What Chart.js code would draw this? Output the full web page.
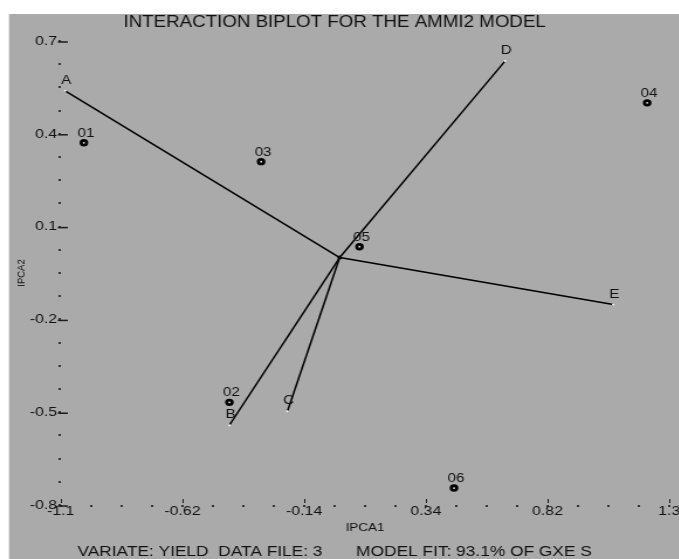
<!DOCTYPE html>
<html>
<head>
<meta charset="utf-8">
<script src="https://cdn.jsdelivr.net/npm/chart.js@4.4.1/dist/chart.umd.min.js"></script>
<style>
html, body { margin:0; padding:0; background:#fff; overflow:hidden; }
#wrap { width:600px; height:559px; transform:scaleX(1.17); transform-origin:0 0; }
</style>
</head>
<body>
<div id="wrap"><canvas id="myChart" width="600" height="559"></canvas></div>
<script>
// environments (points)
var envNames = ['01','02','03','04','05','06'];
var envX = [-1.009, -0.435, -0.310, 1.213, 0.078, 0.451];
var envY = [0.371, -0.468, 0.310, 0.500, 0.035, -0.745];

// genotypes (vectors from origin)
var genoNames = ['A','B','C','D','E'];
var genoX = [-1.083, -0.435, -0.206, 0.652, 1.079];
var genoY = [0.539, -0.542, -0.497, 0.635, -0.152];

// axis ticks
var xTicks = [-1.1, -0.62, -0.14, 0.34, 0.82, 1.3];
var xTickLabels = ['-1.1', '-0.62', '-0.14', '0.34', '0.82', '1.3'];
var yTicks = [0.7, 0.4, 0.1, -0.2, -0.5, -0.8];
var yTickLabels = ['0.7', '0.4', '0.1', '-0.2', '-0.5', '-0.8'];

var FONT = "'Liberation Sans', Arial, sans-serif";

// majors plus 3 minor dots between each
function withMinors(majors){
	var out = [];
	for (var i = 0; i < majors.length; i++) {
		out.push(majors[i]);
		if (i < majors.length - 1) {
			var step = (majors[i+1] - majors[i]) / 4;
			for (var k = 1; k < 4; k++) out.push(majors[i] + step * k);
		}
	}
	return out;
}

function findLabel(v, ticks, labels){
	for (var i = 0; i < ticks.length; i++) {
		if (Math.abs(ticks[i] - v) < 1e-6) return labels[i];
	}
	return '';
}

var datasets = [];
for (var g = 0; g < genoNames.length; g++) {
	datasets.push({
		label: genoNames[g],
		data: [{x: 0, y: 0}, {x: genoX[g], y: genoY[g]}],
		showLine: true,
		borderColor: '#000',
		borderWidth: 1.5,
		pointRadius: [0, 1],
		pointBackgroundColor: '#fff',
		pointBorderWidth: 0,
		isGeno: true
	});
}
datasets.push({
	label: 'origin',
	data: [{x: 0, y: 0}],
	pointRadius: 2,
	pointBackgroundColor: '#000',
	pointBorderWidth: 0
});
datasets.push({
	label: 'env',
	data: envX.map(function(x, i){ return {x: x, y: envY[i]}; }),
	pointRadius: 2.3,
	pointBackgroundColor: '#eee',
	pointBorderColor: '#000',
	pointBorderWidth: 2.8,
	isEnv: true
});

var bgPlugin = {
	id: 'bg',
	beforeDraw: function(chart){
		var c = chart.ctx;
		c.save();
		c.fillStyle = '#fff';
		c.fillRect(0, 0, chart.width, chart.height);
		c.fillStyle = '#aaaaaa';
		c.fillRect(7.7, 14, chart.width, chart.height);
		c.restore();
	}
};

var labelPlugin = {
	id: 'pointLabels',
	afterDatasetsDraw: function(chart){
		var c = chart.ctx;
		c.save();
		c.fillStyle = '#111';
		c.textAlign = 'center';
		c.textBaseline = 'middle';
		chart.data.datasets.forEach(function(ds, i){
			var meta = chart.getDatasetMeta(i);
			if (ds.isGeno) {
				var p = meta.data[1];
				c.font = '13px ' + FONT;
				c.fillText(ds.label, p.x + 1, p.y - 10.5);
			}
			if (ds.isEnv) {
				c.font = '13px ' + FONT;
				meta.data.forEach(function(p, j){
					c.fillText(envNames[j], p.x + 1.7, p.y - 9.5);
				});
			}
		});
		// major tick marks: short verticals on x, dashes on y
		var xs = chart.scales.x, ys = chart.scales.y;
		c.strokeStyle = '#1a1a1a';
		c.lineWidth = 1;
		xTicks.forEach(function(v){
			var px = Math.round(xs.getPixelForValue(v)) + 0.5;
			c.beginPath();
			c.moveTo(px, xs.top - 6);
			c.lineTo(px, xs.top - 2);
			c.stroke();
		});
		c.lineWidth = 1.5;
		yTicks.forEach(function(v){
			var py = ys.getPixelForValue(v) + 1;
			c.beginPath();
			c.moveTo(ys.right - 2.5, py);
			c.lineTo(ys.right + 6, py);
			c.stroke();
		});
		c.restore();
	}
};

var ctx = document.getElementById('myChart').getContext('2d');
var chart = new Chart(ctx, {
	type: 'scatter',
	data: { datasets: datasets },
	plugins: [bgPlugin, labelPlugin],
	options: {
		responsive: false,
		devicePixelRatio: 1,
		animation: false,
		layout: { padding: { left: 0, right: 28, top: 0, bottom: 0 } },
		plugins: {
			legend: { display: false },
			tooltip: { enabled: false },
			title: {
				display: true,
				text: 'INTERACTION BIPLOT FOR THE AMMI2 MODEL',
				color: '#111',
				font: { size: 16, family: FONT, weight: 'normal' },
				padding: { top: 13.4, bottom: 8.4 }
			},
			subtitle: {
				display: true,
				position: 'bottom',
				text: 'VARIATE: YIELD  DATA FILE: 3       MODEL FIT: 93.1% OF GXE S',
				color: '#111',
				font: { size: 14.8, family: FONT },
				padding: { top: 2, bottom: -2 }
			}
		},
		scales: {
			x: {
				type: 'linear',
				min: -1.1,
				max: 1.3,
				afterBuildTicks: function(s){
					s.ticks = withMinors(xTicks).map(function(v){ return {value: v}; });
				},
				afterFit: function(s){ s.height = 36.2; },
				ticks: {
					autoSkip: false,
					maxRotation: 0,
					padding: -4,
					color: '#111',
					font: { size: 13.5, family: FONT },
					callback: function(v){ return findLabel(v, xTicks, xTickLabels); }
				},
				grid: { drawOnChartArea: false, drawTicks: true, tickLength: 2, lineWidth: 2, color: '#333' },
				border: { display: false },
				title: {
					display: true,
					text: 'IPCA1',
					color: '#111',
					font: { size: 11.5, family: FONT },
					padding: { top: 0, bottom: 6.3 }
				}
			},
			y: {
				type: 'linear',
				min: -0.8,
				max: 0.7,
				afterBuildTicks: function(s){
					s.ticks = withMinors(yTicks).map(function(v){ return {value: v}; });
				},
				afterFit: function(s){ s.width = 52; },
				ticks: {
					autoSkip: false,
					padding: 1.3,
					color: '#111',
					font: { size: 13.5, family: FONT },
					callback: function(v){ return findLabel(v, yTicks, yTickLabels); }
				},
				grid: { drawOnChartArea: false, drawTicks: true, tickLength: 2, lineWidth: 2, color: '#333' },
				border: { display: false },
				title: {
					display: true,
					text: 'IPCA2',
					color: '#111',
					font: { size: 9.5, family: FONT },
					padding: { top: 12.3, bottom: 0 }
				}
			}
		}
	}
});
</script>
</body>
</html>
